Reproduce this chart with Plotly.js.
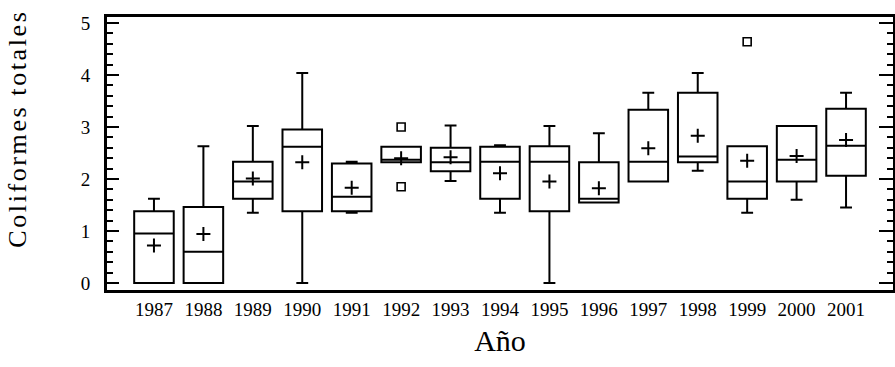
<!DOCTYPE html>
<html>
<head>
<meta charset="utf-8">
<script src="https://cdn.plot.ly/plotly-3.0.1.min.js"></script>
<style>
body { margin: 0; background: #fff; }
#chart { width: 895px; height: 367px; }
.annotation-text { letter-spacing: 2.6px; }
</style>
</head>
<body>
<div id="chart"></div>
<script>
const years = ['1987','1988','1989','1990','1991','1992','1993','1994','1995','1996','1997','1998','1999','2000','2001'];
const q1Values     = [0,    0,    1.62, 1.38, 1.38, 2.32, 2.15, 1.62, 1.38, 1.55, 1.95, 2.32, 1.62, 1.95, 2.06];
const medianValues = [0.95, 0.60, 1.95, 2.62, 1.66, 2.37, 2.32, 2.33, 2.33, 1.62, 2.33, 2.43, 1.95, 2.37, 2.64];
const q3Values     = [1.38, 1.46, 2.33, 2.95, 2.30, 2.62, 2.60, 2.62, 2.63, 2.32, 3.33, 3.66, 2.63, 3.02, 3.35];
const lowerValues  = [0,    0,    1.35, 0,    1.35, 2.32, 1.96, 1.35, 0,    1.55, 1.95, 2.16, 1.35, 1.60, 1.45];
const upperValues  = [1.62, 2.63, 3.02, 4.04, 2.33, 2.62, 3.03, 2.65, 3.02, 2.88, 3.66, 4.04, 2.63, 3.02, 3.66];
const meanValues   = [0.72, 0.94, 2.01, 2.32, 1.83, 2.40, 2.42, 2.11, 1.95, 1.82, 2.59, 2.83, 2.35, 2.44, 2.75];
const outlierYears  = ['1992', '1992', '1999'];
const outlierValues = [3.00, 1.85, 4.64];
const yTicks = [0, 1, 2, 3, 4, 5];
const yTitle = 'Coliformes totales';
const xTitle = 'Año';

const serif = "'Liberation Serif', 'Times New Roman', serif";
const yRange = [-0.135, 5.115];

const traces = [
  {
    type: 'box',
    x: years,
    q1: q1Values,
    median: medianValues,
    q3: q3Values,
    lowerfence: lowerValues,
    upperfence: upperValues,
    width: 0.8,
    whiskerwidth: 0.3,
    fillcolor: '#ffffff',
    line: { color: '#000000', width: 2 },
    boxpoints: false,
    hoverinfo: 'skip',
    showlegend: false
  },
  {
    type: 'scatter',
    mode: 'markers',
    x: years,
    y: meanValues,
    marker: { symbol: 'cross-thin-open', size: 10, color: '#000000', line: { color: '#000000', width: 2 } },
    hoverinfo: 'skip',
    showlegend: false
  },
  {
    type: 'scatter',
    mode: 'markers',
    x: outlierYears,
    y: outlierValues,
    marker: { symbol: 'square-open', size: 8, color: '#000000', line: { color: '#000000', width: 1.6 } },
    hoverinfo: 'skip',
    showlegend: false
  },
  {
    type: 'scatter',
    mode: 'markers',
    x: [years[0]],
    y: [yTicks[0]],
    yaxis: 'y2',
    marker: { opacity: 0 },
    hoverinfo: 'skip',
    showlegend: false
  }
];

const tickStyle = {
  range: yRange,
  tickvals: yTicks,
  showgrid: false,
  zeroline: false,
  ticks: 'inside',
  ticklen: 12,
  tickwidth: 2,
  tickcolor: '#000000',
  minor: { dtick: 0.2, ticks: 'inside', ticklen: 6, tickwidth: 2, tickcolor: '#000000', showgrid: false }
};

const layout = {
  width: 895,
  height: 367,
  margin: { l: 107, r: 2, t: 17, b: 77 },
  paper_bgcolor: '#ffffff',
  plot_bgcolor: '#ffffff',
  font: { family: serif, color: '#000000' },
  showlegend: false,
  xaxis: {
    type: 'category',
    categoryorder: 'array',
    categoryarray: years,
    range: [-0.95, 14.95],
    showgrid: false,
    zeroline: false,
    showline: true,
    linecolor: '#000000',
    linewidth: 3,
    mirror: true,
    ticks: '',
    tickfont: { family: serif, size: 19, color: '#000000' },
    ticklabelstandoff: 0,
    title: { text: xTitle, font: { family: serif, size: 30, color: '#000000' }, standoff: 12 }
  },
  yaxis: Object.assign({}, tickStyle, {
    showline: true,
    linecolor: '#000000',
    linewidth: 3,
    mirror: true,
    ticktext: yTicks.map(String),
    tickfont: { family: serif, size: 19, color: '#000000' },
    ticklabelstandoff: 10
  }),
  yaxis2: Object.assign({}, tickStyle, {
    overlaying: 'y',
    side: 'right',
    anchor: 'x',
    showline: false,
    showticklabels: false,
    ticklen: 14
  }),
  annotations: [
    {
      text: yTitle,
      xref: 'paper', yref: 'paper',
      x: -0.1135, y: 0.59,
      xanchor: 'center', yanchor: 'middle',
      textangle: -90,
      showarrow: false,
      font: { family: serif, size: 26, color: '#000000' }
    }
  ]
};

Plotly.newPlot('chart', traces, layout, { staticPlot: true, displayModeBar: false });
</script>
</body>
</html>
